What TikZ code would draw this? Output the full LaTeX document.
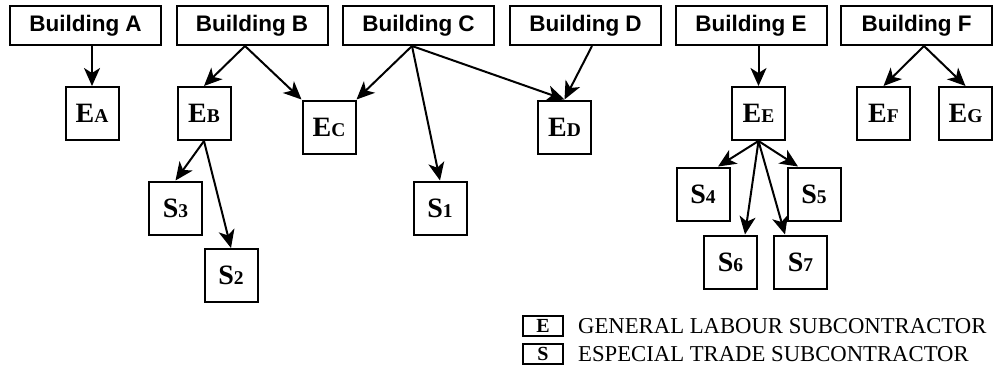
\documentclass[tikz,border=0pt]{standalone}
\usepackage{fontspec}
\setmainfont{Liberation Serif}
\newfontfamily\bldgfont{Liberation Sans}
\usetikzlibrary{arrows.meta}
\definecolor{inkline}{RGB}{0,0,0}
\newcommand{\sub}[2]{{\fontsize{28}{28}\selectfont #1}{\fontsize{19.5}{19.5}\selectfont #2}}
\tikzset{
  bldg/.style={draw=inkline,line width=2pt,minimum width=151pt,minimum height=39pt,
    inner sep=0pt,font=\bldgfont\bfseries\fontsize{22.5}{24}\selectfont},
  unit/.style={draw=inkline,line width=2pt,minimum size=53pt,inner sep=0pt,font=\bfseries},
  keybox/.style={draw=inkline,line width=1.8pt,minimum width=40pt,minimum height=20pt,
    inner sep=0pt,font=\bfseries\fontsize{20}{20}\selectfont},
  keytext/.style={anchor=west,inner sep=0pt,font=\fontsize{22.7}{24}\selectfont},
  link/.style={draw=inkline,line width=2pt,-{Stealth[length=18pt,width=16pt,inset=5pt]}}
}

\begin{document}
\begin{tikzpicture}[x=1pt,y=-1pt]
  \useasboundingbox (0,0) rectangle (993,389);
  % buildings
  \node[bldg] (BA) at (85.5,25.5) {Building A};
  \node[bldg] (BB) at (252,25.5) {Building B};
  \node[bldg] (BC) at (418.5,25.5) {Building C};
  \node[bldg] (BD) at (585.5,25.5) {Building D};
  \node[bldg] (BE) at (751,25.5) {Building E};
  \node[bldg] (BF) at (916.5,25.5) {Building F};
  % subcontractors
  \node[unit] (EA) at (92,113.5) {\sub{E}{A}};
  \node[unit] (EB) at (204,113.5) {\sub{E}{B}};
  \node[unit] (EC) at (329,127) {\sub{E}{C}};
  \node[unit] (ED) at (564.5,127) {\sub{E}{D}};
  \node[unit] (EE) at (758.5,113.5) {\sub{E}{E}};
  \node[unit] (EF) at (883.5,113.5) {\sub{E}{F}};
  \node[unit] (EG) at (965.5,113.5) {\sub{E}{G}};
  \node[unit] (S1) at (440,208) {\sub{S}{1}};
  \node[unit] (S2) at (231,275.5) {\sub{S}{2}};
  \node[unit] (S3) at (175.5,208) {\sub{S}{3}};
  \node[unit] (S4) at (703,194) {\sub{S}{4}};
  \node[unit] (S5) at (814,194) {\sub{S}{5}};
  \node[unit] (S6) at (730.5,262) {\sub{S}{6}};
  \node[unit] (S7) at (800.5,262) {\sub{S}{7}};
  % links
  \draw[link] (EA.north |- BA.south) -- (EA.north);
  \draw[link] ([xshift=-7pt]BB.south) -- (EB.north);
  \draw[link] ([xshift=-7pt]BB.south) -- (EC.north west);
  \draw[link] ([xshift=-6.5pt]BC.south) -- (EC.north east);
  \draw[link] ([xshift=-6.5pt]BC.south) -- (S1.north);
  \draw[link] ([xshift=-6.5pt]BC.south) -- (ED.north);
  \draw[link] ([xshift=6.5pt]BD.south) -- (ED.north);
  \draw[link] (EE.north |- BE.south) -- (EE.north);
  \draw[link] ([xshift=7.5pt]BF.south) -- (EF.north);
  \draw[link] ([xshift=7.5pt]BF.south) -- (EG.north);
  \draw[link] (EB.south) -- (S3.north);
  \draw[link] (EB.south) -- (S2.north);
  \draw[link] (EE.south) -- ([xshift=15pt]S4.north);
  \draw[link] (EE.south) -- ([xshift=14.5pt]S6.north);
  \draw[link] (EE.south) -- ([xshift=-15.5pt]S7.north);
  \draw[link] (EE.south) -- ([xshift=-16pt]S5.north);
  % legend
  \node[keybox] (KE) at (543,326) {E};
  \node[keybox] (KS) at (543,354) {S};
  \node[keytext] (TE) at (578,326) {GENERAL LABOUR SUBCONTRACTOR};
  \node[keytext] (TS) at (578,354) {ESPECIAL TRADE SUBCONTRACTOR};
\end{tikzpicture}
\end{document}
